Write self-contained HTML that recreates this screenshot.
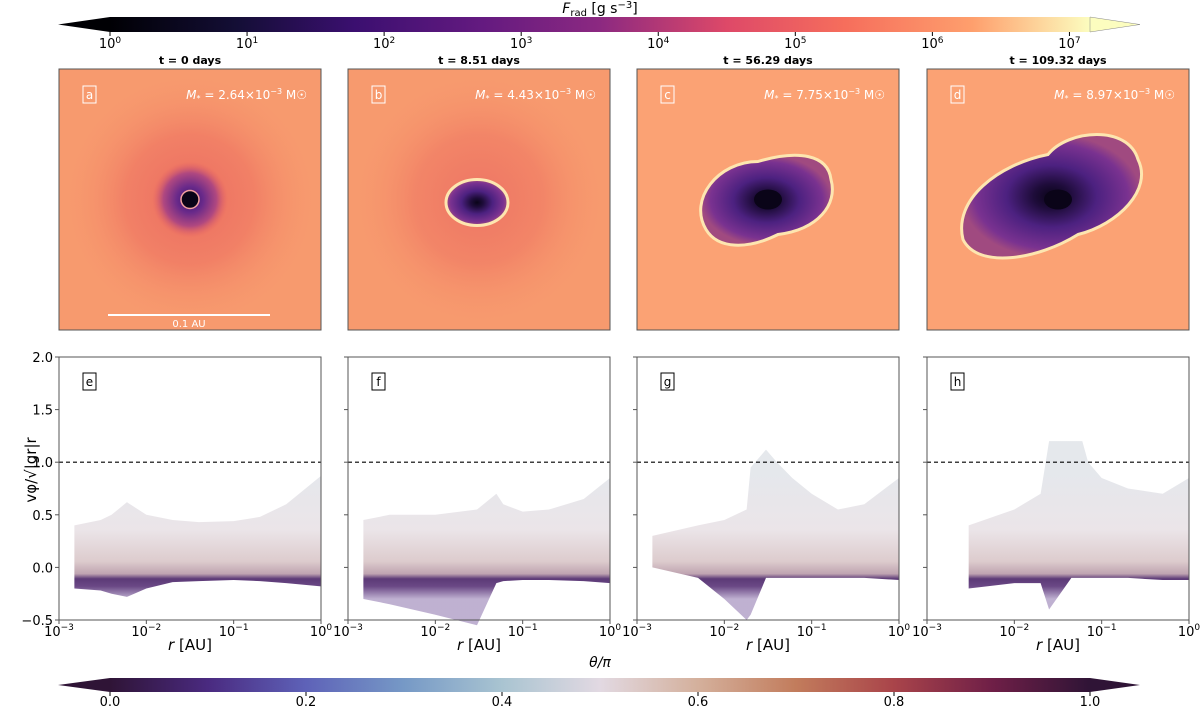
<!DOCTYPE html>
<html><head><meta charset="utf-8"><style>
body{margin:0;background:#fff;}
svg text{font-family:"DejaVu Sans","Liberation Sans",sans-serif;}
</style></head><body>
<svg id="fig" width="1200" height="707" viewBox="0 0 1200 707" xmlns="http://www.w3.org/2000/svg">
<defs>
<linearGradient id="magma" x1="0" x2="1" y1="0" y2="0">
<stop offset="0" stop-color="#000004"/><stop offset="0.13" stop-color="#140e36"/><stop offset="0.25" stop-color="#3b0f70"/><stop offset="0.38" stop-color="#641a80"/><stop offset="0.5" stop-color="#8c2981"/><stop offset="0.63" stop-color="#de4968"/><stop offset="0.75" stop-color="#f66e5c"/><stop offset="0.88" stop-color="#fe9f6d"/><stop offset="1" stop-color="#fcfdbf"/>
</linearGradient>
<linearGradient id="twil" x1="0" x2="1" y1="0" y2="0">
<stop offset="0" stop-color="#2f1436"/><stop offset="0.1" stop-color="#4a2a80"/><stop offset="0.2" stop-color="#5e62b8"/><stop offset="0.3" stop-color="#7699c6"/><stop offset="0.4" stop-color="#a9c4d1"/><stop offset="0.5" stop-color="#e2d9e2"/><stop offset="0.6" stop-color="#d4b09c"/><stop offset="0.7" stop-color="#c27c5c"/><stop offset="0.8" stop-color="#a9444a"/><stop offset="0.9" stop-color="#6f1f47"/><stop offset="1" stop-color="#2f1436"/>
</linearGradient>
<radialGradient id="bgA" cx="0.5" cy="0.5" r="0.5">
<stop offset="0" stop-color="#e8625f"/><stop offset="0.5" stop-color="#f07a64"/><stop offset="1" stop-color="#f89a6e" stop-opacity="0"/>
</radialGradient>
<radialGradient id="innerA" cx="0.5" cy="0.5" r="0.5">
<stop offset="0" stop-color="#3a1470"/><stop offset="0.35" stop-color="#6a2a8a"/><stop offset="0.7" stop-color="#b04880"/><stop offset="1" stop-color="#e8625f" stop-opacity="0"/>
</radialGradient>
<radialGradient id="bubble" cx="0.5" cy="0.5" r="0.5">
<stop offset="0" stop-color="#0a0418"/><stop offset="0.2" stop-color="#1e0c3a"/><stop offset="0.5" stop-color="#4c2180"/><stop offset="0.85" stop-color="#7a3290"/><stop offset="1" stop-color="#a04a80"/>
</radialGradient>
<linearGradient id="scat" gradientUnits="userSpaceOnUse" x1="0" x2="0" y1="473" y2="599">
<stop offset="0" stop-color="#e2e5ea"/><stop offset="0.45" stop-color="#e9e2e6"/><stop offset="0.7" stop-color="#d9c6c8"/><stop offset="0.8" stop-color="#b89aa8"/><stop offset="0.84" stop-color="#4a2468"/><stop offset="0.9" stop-color="#5a3478"/><stop offset="1" stop-color="#b8a8cc"/>
</linearGradient>
</defs>

<g>
<text x="600" y="13" text-anchor="middle" font-size="14"><tspan font-style="italic">F</tspan><tspan font-size="10" dy="3">rad</tspan><tspan dy="-3"> [g s</tspan><tspan font-size="10" dy="-5">−3</tspan><tspan dy="5">]</tspan></text>
<polygon points="58,24.5 110,17 110,32" fill="#000004"/>
<rect x="110" y="17" width="980" height="15" fill="url(#magma)"/>
<polygon points="1090,17 1140,24.5 1090,32" fill="#fcfdbf" stroke="#888" stroke-width="0.5"/>
<g id="topticks"></g>
</g>

<g id="toprow"></g>
<g id="botrow"></g>

<g>
<text x="600" y="667" text-anchor="middle" font-size="14" font-style="italic">θ/π</text>
<polygon points="58,685 110,678 110,692" fill="#2f1436"/>
<rect x="110" y="678" width="980" height="14" fill="url(#twil)"/>
<polygon points="1090,678 1140,685 1090,692" fill="#2f1436"/>
<g id="botticks"></g>
</g>
</svg>
<script>
const NS="http://www.w3.org/2000/svg";
function mk(tag,attrs,parent,txt){const e=document.createElementNS(NS,tag);for(const k in attrs)e.setAttribute(k,attrs[k]);if(txt!==undefined)e.textContent=txt;parent.appendChild(e);return e;}

const fluxTickExps=[0,1,2,3,4,5,6,7];
const thetaTicks=[0.0,0.2,0.4,0.6,0.8,1.0];
const times=["t = 0 days","t = 8.51 days","t = 56.29 days","t = 109.32 days"];
const masses=["2.64","4.43","7.75","8.97"];
const topLetters=["a","b","c","d"];
const botLetters=["e","f","g","h"];
const yTicks=[-0.5,0.0,0.5,1.0,1.5,2.0];
const xTickExps=[-3,-2,-1,0];
const rE=[0.0015,0.003,0.004,0.006,0.01,0.02,0.04,0.1,0.2,0.4,1];
const upE=[0.4,0.45,0.5,0.62,0.5,0.45,0.43,0.44,0.48,0.6,0.87];
const loE=[-0.2,-0.22,-0.25,-0.28,-0.2,-0.14,-0.13,-0.12,-0.13,-0.15,-0.18];
const rF=[0.0015,0.003,0.01,0.03,0.05,0.06,0.1,0.2,0.5,1];
const upF=[0.45,0.5,0.5,0.55,0.7,0.6,0.53,0.55,0.65,0.85];
const loF=[-0.3,-0.35,-0.45,-0.55,-0.15,-0.13,-0.12,-0.12,-0.13,-0.15];
const rG=[0.0015,0.005,0.01,0.018,0.02,0.03,0.04,0.06,0.1,0.2,0.4,1];
const upG=[0.3,0.4,0.45,0.55,0.95,1.12,1.0,0.85,0.7,0.55,0.6,0.85];
const loG=[0.0,-0.1,-0.3,-0.5,-0.45,-0.1,-0.1,-0.1,-0.1,-0.1,-0.1,-0.12];
const rH=[0.003,0.01,0.02,0.025,0.045,0.06,0.07,0.1,0.2,0.5,1];
const upH=[0.4,0.55,0.7,1.2,1.2,1.2,1.0,0.85,0.75,0.7,0.85];
const loH=[-0.2,-0.15,-0.15,-0.4,-0.1,-0.1,-0.1,-0.1,-0.1,-0.12,-0.12];
const series=[[rE,upE,loE],[rF,upF,loF],[rG,upG,loG],[rH,upH,loH]];

const panelX=[59,348,637,927], panelW=262;

const tt=document.getElementById('topticks');
fluxTickExps.forEach(e=>{const x=110+e*(980/7.15);
 mk('line',{x1:x,x2:x,y1:32,y2:36,stroke:'#000'},tt);
 const t=mk('text',{x:x,y:48,'text-anchor':'middle','font-size':13},tt);
 
 mk('tspan',{},t,'10');mk('tspan',{'font-size':9,dy:-5},t,String(e));
});
const bt=document.getElementById('botticks');
thetaTicks.forEach(v=>{const x=110+v*980;
 mk('line',{x1:x,x2:x,y1:692,y2:696,stroke:'#000'},bt);
 const t=mk('text',{x:x,y:706,'text-anchor':'middle','font-size':13},bt,v.toFixed(1));
 
});

const tr=document.getElementById('toprow');
for(let i=0;i<4;i++){
 const x0=panelX[i],y0=69,w=panelW,h=261,cx=x0+w/2,cy=y0+h/2;
 const g=mk('g',{},tr);
 
 mk('rect',{x:x0,y:y0,width:w,height:h,fill:i<2?'#f79a6e':'#fba274'},g);
 if(i<2){mk('circle',{cx:cx,cy:cy,r:130,fill:'url(#bgA)',opacity:i==0?0.8:0.65},g);}
 if(i==0){mk('circle',{cx:cx,cy:cy,r:38,fill:'url(#innerA)'},g);
   mk('circle',{cx:cx,cy:cy,r:9,fill:'#0a0418',stroke:'#f3a0a0','stroke-width':1.5},g);}
 if(i==1){mk('ellipse',{cx:cx-2,cy:cy+3,rx:31,ry:23,fill:'url(#bubble)',stroke:'#fde6b0','stroke-width':3},g);}
 if(i==2){mk('path',{d:`M${cx-62},${cy+30} C${cx-80},${cy} ${cx-50},${cy-38} ${cx-10},${cy-38} C${cx+30},${cy-50} ${cx+60},${cy-45} ${cx+63},${cy-20} C${cx+70},${cy+5} ${cx+50},${cy+30} ${cx+10},${cy+35} C${cx-20},${cy+50} ${cx-50},${cy+50} ${cx-62},${cy+30}Z`,fill:'url(#bubble)',stroke:'#fde6b0','stroke-width':3},g);}
 if(i==3){mk('path',{d:`M${cx-95},${cy+40} C${cx-105},${cy} ${cx-60},${cy-35} ${cx-10},${cy-45} C${cx+10},${cy-70} ${cx+70},${cy-75} ${cx+80},${cy-40} C${cx+95},${cy-10} ${cx+60},${cy+25} ${cx+20},${cy+35} C${cx-20},${cy+60} ${cx-80},${cy+70} ${cx-95},${cy+40}Z`,fill:'url(#bubble)',stroke:'#fde6b0','stroke-width':3},g);}
 if(i>=2){mk('ellipse',{cx:cx,cy:cy,rx:14,ry:10,fill:'#0a0418'},g);}
 mk('rect',{x:x0,y:y0,width:w,height:h,fill:'none',stroke:'#555','stroke-width':1},g);
 const tl=mk('text',{x:cx,y:64,'text-anchor':'middle','font-size':11,'font-weight':'bold'},tr,times[i]);
 
 mk('rect',{x:x0+24,y:y0+17,width:13,height:17,fill:'none',stroke:'#fff','stroke-width':1},g);
 const lt=mk('text',{x:x0+30.5,y:y0+30,'text-anchor':'middle','font-size':12,fill:'#fff'},g,topLetters[i]);
 
 const mt=mk('text',{x:x0+w-14,y:y0+30,'text-anchor':'end','font-size':12,fill:'#fff'},g);
 
 mk('tspan',{'font-style':'italic'},mt,'M');mk('tspan',{'font-size':8,dy:2},mt,'*');
 mk('tspan',{dy:-2},mt,' = '+masses[i]+'×10');mk('tspan',{'font-size':8,dy:-5},mt,'−3');mk('tspan',{dy:5},mt,' M☉');
 if(i==0){mk('line',{x1:108,x2:270,y1:315,y2:315,stroke:'#fff','stroke-width':2},g);
  const sb=mk('text',{x:189,y:327,'text-anchor':'middle','font-size':10,fill:'#fff'},g,'0.1 AU');
  }
}

const br=document.getElementById('botrow');
const Y0=357,Y1=620;
function ys(v){return Y0+(2.0-v)/2.5*(Y1-Y0);}
for(let i=0;i<4;i++){
 const x0=panelX[i];
 function xs(r){return x0+(Math.log10(r)+3)/3*panelW;}
 const g=mk('g',{},br);
 
 const [r,up,lo]=series[i];
 let d='M'+r.map((v,k)=>xs(v)+','+ys(up[k])).join(' L');
 for(let k=r.length-1;k>=0;k--)d+=' L'+xs(r[k])+','+ys(lo[k]);
 const ar=mk('path',{d:d+'Z',fill:'url(#scat)',opacity:0.9},g);
 
 const dl=mk('line',{x1:x0,x2:x0+panelW,y1:ys(1),y2:ys(1),stroke:'#000','stroke-dasharray':'4,3','stroke-width':1.2},g);
 
 mk('rect',{x:x0,y:Y0,width:panelW,height:Y1-Y0,fill:'none',stroke:'#555'},g);
 yTicks.forEach(v=>{mk('line',{x1:x0-4,x2:x0,y1:ys(v),y2:ys(v),stroke:'#555'},g);
  if(i==0){const t=mk('text',{x:x0-6,y:ys(v)+5,'text-anchor':'end','font-size':13},g,(v<0?'−':'')+Math.abs(v).toFixed(1));
   }});
 xTickExps.forEach(e=>{const x=xs(Math.pow(10,e));
  mk('line',{x1:x,x2:x,y1:Y1,y2:Y1+4,stroke:'#555'},g);
  const t=mk('text',{x:x,y:Y1+16,'text-anchor':'middle','font-size':13},g);
  
  mk('tspan',{},t,'10');mk('tspan',{'font-size':9,dy:-6},t,e<0?'−'+(-e):String(e));});
 const xl=mk('text',{x:x0+panelW/2,y:650,'text-anchor':'middle','font-size':15},g);
 
 mk('tspan',{'font-style':'italic'},xl,'r');mk('tspan',{},xl,' [AU]');
 mk('rect',{x:x0+24,y:Y0+16,width:13,height:17,fill:'#fff',stroke:'#000'},g);
 const lt=mk('text',{x:x0+30.5,y:Y0+29,'text-anchor':'middle','font-size':12},g,botLetters[i]);
 
}
const yt=mk('text',{x:0,y:0,'text-anchor':'middle','font-size':15,transform:'translate(36,470) rotate(-90)'},br,'vφ/√|gr|r');


</script>
</body></html>
